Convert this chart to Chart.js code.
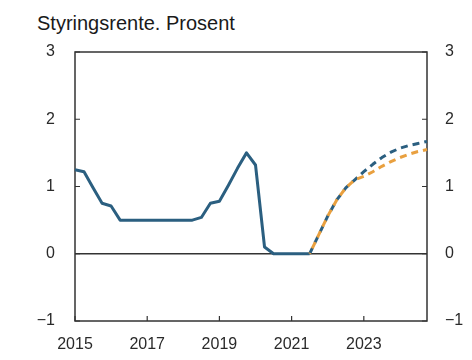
<!DOCTYPE html>
<html>
<head>
<meta charset="utf-8">
<script src="https://cdn.jsdelivr.net/npm/chart.js@4/dist/chart.umd.min.js"></script>
<style>
  body { margin: 0; background: #fff; }
  #wrap { position: relative; width: 472px; height: 360px; }
  #title { position: absolute; left: 37px; top: 13px; font: 20px "Liberation Sans", Arial, sans-serif; line-height: 20px; color: #1a1a1a; }
  canvas { position: absolute; left: 0; top: 0; }
</style>
</head>
<body>
<div id="wrap">
  <div id="title">Styringsrente. Prosent</div>
  <canvas id="myChart" width="472" height="360"></canvas>
</div>
<script>
// quarters 2015Q1 - 2024Q4
const years = [2015, 2016, 2017, 2018, 2019, 2020, 2021, 2022, 2023, 2024];
const quarters = [];
years.forEach(y => { for (let q = 1; q <= 4; q++) quarters.push(y + 'Q' + q); });

const xTickLabels = ['2015', '2017', '2019', '2021', '2023'];
const yTicks = [-1, 0, 1, 2, 3];

// actual policy rate, 2015Q1 - 2021Q3
const actual = [
  1.25, 1.22, 0.98, 0.75,
  0.71, 0.5, 0.5, 0.5,
  0.5, 0.5, 0.5, 0.5,
  0.5, 0.5, 0.54, 0.75,
  0.78, 1.02, 1.27, 1.5,
  1.32, 0.1, 0, 0,
  0, 0, 0
];
// forecasts, 2021Q3 - 2024Q4
const forecastNew = [0, 0.28, 0.56, 0.8, 0.98, 1.1, 1.22, 1.33, 1.43, 1.51, 1.57, 1.61, 1.64, 1.67];
const forecastOld = [0, 0.28, 0.56, 0.8, 0.98, 1.1, 1.15, 1.22, 1.3, 1.37, 1.43, 1.48, 1.52, 1.55];

const blue = '#2b5f80';
const orange = '#e9a03f';
const ink = '#2a2a2a';

const startF = quarters.indexOf('2021Q3');
const pad = n => Array(n).fill(null);

const frame = {
  id: 'frame',
  beforeDatasetsDraw(chart) {
    const { ctx, chartArea: a, scales } = chart;
    ctx.save();
    ctx.strokeStyle = '#333';
    ctx.lineWidth = 1.5;
    ctx.strokeRect(a.left, a.top, a.right - a.left, a.bottom - a.top);
    const y0 = scales.y.getPixelForValue(0);
    ctx.beginPath();
    ctx.moveTo(a.left, y0); ctx.lineTo(a.right, y0);
    ctx.stroke();
    ctx.lineWidth = 1.2;
    ctx.beginPath();
    yTicks.forEach(v => {
      const py = scales.y.getPixelForValue(v);
      ctx.moveTo(a.left, py); ctx.lineTo(a.left + 5, py);
      ctx.moveTo(a.right, py); ctx.lineTo(a.right - 5, py);
    });
    xTickLabels.forEach(l => {
      const px = scales.x.getPixelForValue(quarters.indexOf(l + 'Q1'));
      ctx.moveTo(px, a.bottom); ctx.lineTo(px, a.bottom - 5);
    });
    ctx.stroke();
    ctx.restore();
  }
};

const font = { family: '"Liberation Sans", Arial, sans-serif', size: 16 };
const fmt = v => (v < 0 ? '\u2212' + Math.abs(v) : String(v));

new Chart(document.getElementById('myChart'), {
  type: 'line',
  data: {
    labels: quarters,
    datasets: [
      { data: actual.concat(pad(quarters.length - actual.length)), borderColor: blue, borderWidth: 3, order: 3 },
      { data: pad(startF).concat(forecastNew), borderColor: blue, borderWidth: 3, borderDash: [7, 5], order: 2 },
      { data: pad(startF).concat(forecastOld), borderColor: orange, borderWidth: 3, borderDash: [7, 5], borderDashOffset: 6, order: 1 }
    ]
  },
  options: {
    responsive: false,
    animation: false,
    layout: { padding: { top: 52 } },
    elements: { point: { radius: 0 }, line: { tension: 0, borderCapStyle: 'butt', borderJoinStyle: 'round' } },
    plugins: { legend: { display: false }, tooltip: { enabled: false } },
    scales: {
      x: {
        type: 'category',
        offset: false,
        grid: { display: false },
        border: { display: false },
        ticks: {
          autoSkip: false, maxRotation: 0, padding: 6, color: ink, font,
          callback(v, i) {
            const q = quarters[i];
            return q.endsWith('Q1') && xTickLabels.includes(q.slice(0, 4)) ? q.slice(0, 4) : null;
          }
        },
        afterFit(s) { s.height = 39; }
      },
      y: {
        position: 'left', min: -1, max: 3,
        grid: { display: false }, border: { display: false },
        ticks: { stepSize: 1, padding: 12, color: ink, font, callback: fmt },
        afterFit(s) { s.width = 75; }
      },
      y1: {
        position: 'right', min: -1, max: 3,
        grid: { display: false }, border: { display: false },
        ticks: { stepSize: 1, padding: 10, color: ink, font, callback: fmt },
        afterFit(s) { s.width = 45; }
      }
    }
  },
  plugins: [frame]
});
</script>
</body>
</html>
